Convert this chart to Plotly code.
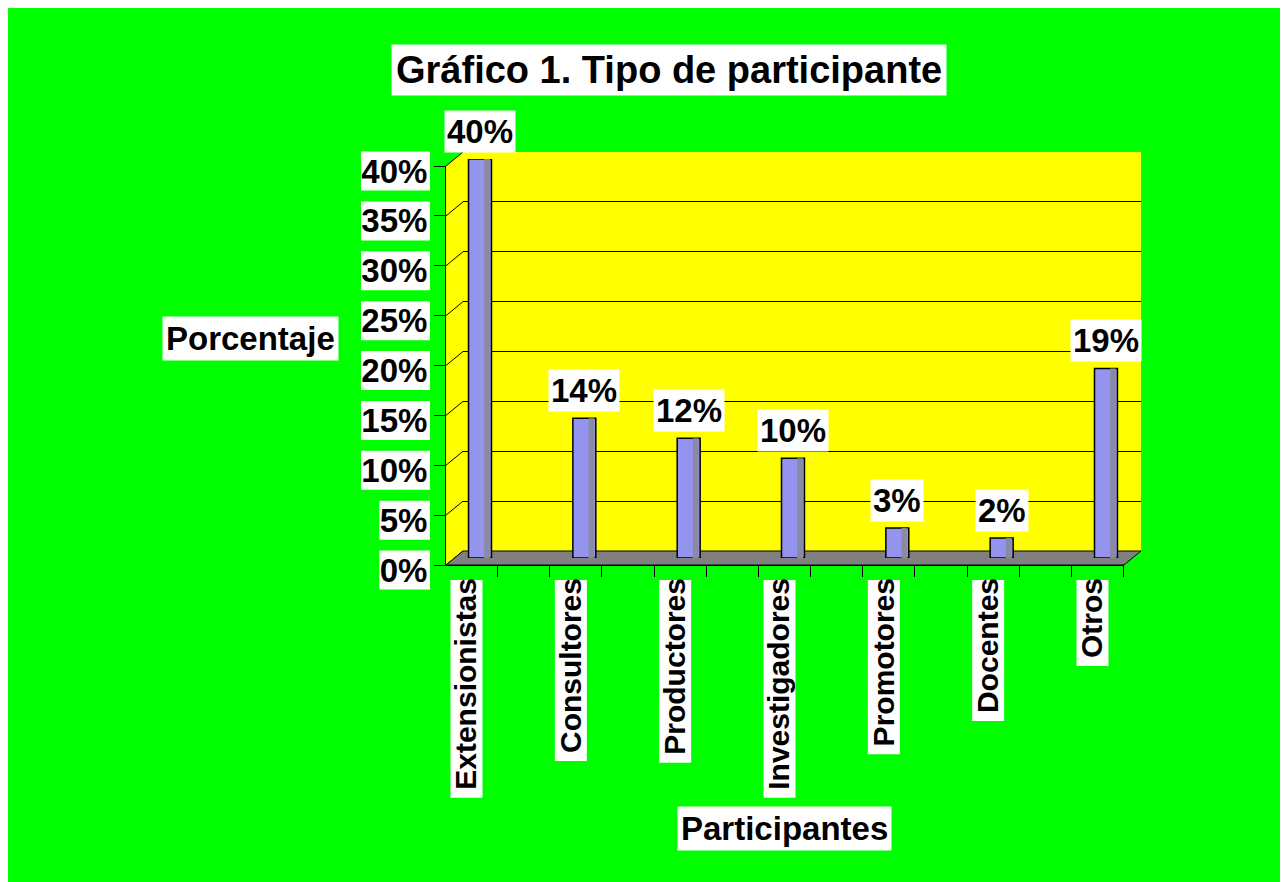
import plotly.graph_objects as go

# datos
categorias = ["Extensionistas", "Consultores", "Productores", "Investigadores",
              "Promotores", "Docentes", "Otros"]
porcentajes = [40, 14, 12, 10, 3, 2, 19]
marcas_y = [0, 5, 10, 15, 20, 25, 30, 35, 40]
etiquetas_y = [f"{v}%" for v in marcas_y]

FONT = "Liberation Sans, Arial, sans-serif"
W, H = 1280, 874
OX, OY = 8, 8  # margen del body de la pagina

def px(x):
    return (x - OX) / W

def py(y):
    return 1 - (y - OY) / H

# pared del fondo (pixeles de pagina) y desplazamiento de profundidad
BACK_L, BACK_R, BACK_B, BACK_T = 463, 1141, 551, 152
DX, DY = -17, 14
CAT_W = 104.33
X0_BACK = 488.5
x_range = [(BACK_L - X0_BACK) / CAT_W, (BACK_R - X0_BACK) / CAT_W]
Y_MAX = 40

def dominio(k):
    return dict(x=[px(BACK_L + k * DX), px(BACK_R + k * DX)],
                y=[py(BACK_B + k * DY), py(BACK_T + k * DY)])

def front_y(v):
    return BACK_B + DY - v * (BACK_B - BACK_T) / Y_MAX

def back_y(v):
    return BACK_B - v * (BACK_B - BACK_T) / Y_MAX

ANCHO = {'E': .667, 'x': .556, 't': .333, 'e': .556, 'n': .611, 's': .556, 'i': .278,
         'o': .611, 'a': .556, 'C': .722, 'u': .611, 'l': .278, 'r': .389, 'P': .667,
         'd': .611, 'c': .556, 'I': .278, 'v': .556, 'g': .611, 'm': .889, 'D': .722,
         'O': .778, '%': .889}

def text_w(s, size):
    return sum(ANCHO.get(ch, .556) for ch in s) * size

d_back, d_front, d_mid = dominio(0), dominio(1), dominio(0.5)

fig = go.Figure()
# ejes del fondo (rejilla)
fig.add_trace(go.Scatter(x=[None], y=[None], xaxis="x", yaxis="y", showlegend=False))
# ejes frontales (lineas, marcas, etiquetas)
fig.add_trace(go.Scatter(x=[None], y=[None], xaxis="x2", yaxis="y2", showlegend=False))
# columnas
fig.add_trace(go.Bar(x=list(range(len(categorias))), y=porcentajes, xaxis="x3", yaxis="y3",
                     width=0.22, offset=-0.11,
                     marker=dict(color="#9494EE", line=dict(color="black", width=1.5)),
                     showlegend=False))
fig.add_trace(go.Bar(x=list(range(len(categorias))), y=porcentajes, xaxis="x3", yaxis="y3",
                     width=0.055, offset=0.04,
                     marker=dict(color="#8A8AA4", line=dict(width=0)),
                     showlegend=False))

shapes = []
# pared del fondo
shapes.append(dict(type="rect", xref="x domain", yref="y domain", x0=0, x1=1, y0=0, y1=1,
                   fillcolor="#FFFF00", line=dict(width=0), layer="below"))
# pared lateral
fl, bl = BACK_L + DX, BACK_L
shapes.append(dict(type="path", xref="paper", yref="paper", layer="below",
                   path=f"M {px(fl)},{py(front_y(Y_MAX))} L {px(bl)},{py(back_y(Y_MAX))} "
                        f"L {px(bl)},{py(back_y(0))} L {px(fl)},{py(front_y(0))} Z",
                   fillcolor="#FFFF00", line=dict(width=0)))
for v in marcas_y:
    shapes.append(dict(type="line", xref="paper", yref="paper", layer="below",
                       x0=px(fl), y0=py(front_y(v)), x1=px(bl), y1=py(back_y(v)),
                       line=dict(color="black", width=1)))
# piso
shapes.append(dict(type="path", xref="paper", yref="paper", layer="below",
                   path=f"M {px(fl)},{py(front_y(0))} L {px(BACK_R + DX)},{py(front_y(0))} "
                        f"L {px(BACK_R)},{py(back_y(0))} L {px(bl)},{py(back_y(0))} Z",
                   fillcolor="#808080", line=dict(color="black", width=1)))
# fondos blancos de etiquetas del eje y
TICK_FS = 33
for v, t in zip(marcas_y, etiquetas_y):
    yc = front_y(v) + 5
    shapes.append(dict(type="rect", xref="paper", yref="paper", layer="below",
                       x0=px(430 - text_w(t, TICK_FS) - 3), x1=px(430),
                       y0=py(yc + 19.5), y1=py(yc - 19.5),
                       fillcolor="white", line=dict(width=0)))
# fondos blancos de etiquetas del eje x
X_FS = 30
for i, c in enumerate(categorias):
    xc = X0_BACK + DX + i * CAT_W - 5
    shapes.append(dict(type="rect", xref="paper", yref="paper", layer="below",
                       x0=px(xc - 16), x1=px(xc + 16),
                       y0=py(580), y1=py(583 + text_w(c, X_FS) + 3),
                       fillcolor="white", line=dict(width=0)))

annotations = [
    dict(text="<b>Gráfico 1. Tipo de participante</b>", xref="paper", yref="paper",
         x=px(669), y=py(70), xanchor="center", yanchor="middle", showarrow=False,
         bgcolor="white", borderpad=4, font=dict(size=38, color="black")),
    dict(text="<b>Porcentaje</b>", xref="paper", yref="paper",
         x=px(250), y=py(338), xanchor="center", yanchor="middle", showarrow=False,
         bgcolor="white", borderpad=3, font=dict(size=33, color="black")),
    dict(text="<b>Participantes</b>", xref="paper", yref="paper",
         x=px(784), y=py(828), xanchor="center", yanchor="middle", showarrow=False,
         bgcolor="white", borderpad=3, font=dict(size=33, color="black")),
]
for i, v in enumerate(porcentajes):
    annotations.append(dict(text=f"<b>{v}%</b>", xref="x3", yref="y3", x=i, y=v,
                            xanchor="center", yanchor="middle", yshift=28, showarrow=False,
                            bgcolor="white", borderpad=2,
                            font=dict(size=33, color="black")))

oculto = dict(showticklabels=False, showgrid=False, zeroline=False, showline=False, ticks="")

fig.update_layout(
    width=W, height=H,
    margin=dict(l=0, r=0, t=0, b=0),
    paper_bgcolor="#00FF00",
    plot_bgcolor="rgba(0,0,0,0)",
    font=dict(family=FONT, color="black"),
    barmode="overlay",
    hovermode=False,
    xaxis=dict(domain=d_back["x"], range=x_range, anchor="y", **oculto),
    yaxis=dict(domain=d_back["y"], range=[0, Y_MAX], anchor="x", showticklabels=False,
               showgrid=True, gridcolor="black", gridwidth=1, zeroline=False,
               showline=False, ticks="", tickvals=marcas_y),
    xaxis2=dict(domain=d_front["x"], range=x_range, anchor="y2",
                showline=True, linecolor="black", linewidth=1, showgrid=False, zeroline=False,
                tickmode="array", tickvals=list(range(len(categorias))), ticktext=categorias,
                ticks="", tickangle=-90, ticklabelshift=-5, automargin=False,
                tickfont=dict(family=FONT, size=X_FS, color="black", weight="bold"),
                minor=dict(ticks="outside", ticklen=11, tickcolor="black", tickwidth=1,
                           tickmode="array",
                           tickvals=[i + s for i in range(len(categorias)) for s in (-0.25, 0.25)])),
    yaxis2=dict(domain=d_front["y"], range=[0, Y_MAX], anchor="x2",
                showline=True, linecolor="black", linewidth=1, showgrid=False, zeroline=False,
                tickmode="array", tickvals=marcas_y, ticktext=etiquetas_y,
                ticks="outside", ticklen=11, tickcolor="black", ticklabelshift=5,
                automargin=False,
                tickfont=dict(family=FONT, size=TICK_FS, color="black", weight="bold")),
    xaxis3=dict(domain=d_mid["x"], range=x_range, anchor="y3", **oculto),
    yaxis3=dict(domain=d_mid["y"], range=[0, Y_MAX], anchor="x3", **oculto),
    shapes=shapes,
    annotations=annotations,
)

fig.write_html("out.html")
